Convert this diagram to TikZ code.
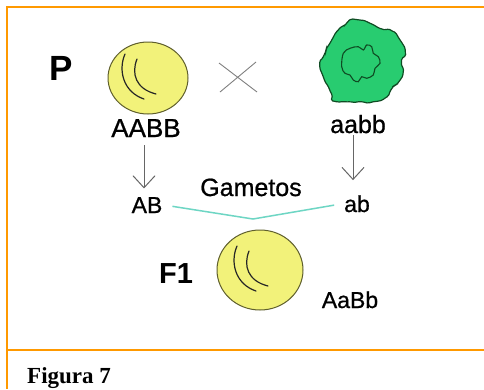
\documentclass[tikz,border=0pt]{standalone}
\usepackage{fontspec}
\setmainfont{Liberation Serif}
\setsansfont{Liberation Sans}
\newfontface\labelface[FakeBold=0.8]{Liberation Sans}
\usepackage{tikz}
\usetikzlibrary{arrows.meta, decorations.pathmorphing}

\definecolor{frameorange}{RGB}{255,153,0}
\definecolor{peayellow}{RGB}{242,242,122}
\definecolor{peaedge}{RGB}{95,95,45}
\definecolor{peagreen}{RGB}{40,204,112}
\definecolor{greenedge}{RGB}{15,75,35}
\definecolor{linkteal}{RGB}{110,214,196}

% round yellow pea: centre, x radius, y radius
\newcommand{\roundpea}[3]{%
  \begin{scope}[shift={#1}]
    \draw[peaedge, fill=peayellow, line width=1pt] (0,0) ellipse [x radius=#2, y radius=#3];
    \draw[pealine] (-23,-24) .. controls (-30,-8) and (-25,14) .. (-4,21);
    \draw[pealine] (-11,-19) .. controls (-17,-4) and (-12,11) .. (8,16);
  \end{scope}}

\begin{document}
\begin{tikzpicture}[x=1pt, y=-1pt, font=\sffamily,
    lbl/.style={inner sep=2pt, anchor=base},
    arr/.style={-{Straight Barb[length=12pt, width=22pt]}, line width=1pt, black!60},
    pealine/.style={line width=1.2pt, black!85, line cap=round}]
    \useasboundingbox (0,0) rectangle (484,389);
    \fill[white] (0,0) rectangle (484,389);

    % frame
    \draw[frameorange, line width=2.5pt] (484,7) -- (7,7) -- (7,389);
    \draw[frameorange, line width=2.5pt] (7,350) -- (484,350);

    % parents
    \roundpea{(148,78)}{40pt}{36pt}
    \pgfmathsetseed{7}
    \draw[greenedge, fill=peagreen, line width=1.2pt,
          decorate, decoration={random steps, segment length=4pt, amplitude=0.8pt}, rounded corners=1.5pt]
        plot[smooth cycle, tension=0.55] coordinates {(346.7,21.7) (358.3,20) (370,23.3) (380,28.3)
        (390,30) (400,40) (405,50) (401.7,60) (403.3,70) (400,80) (393.3,86.7) (386.7,96.7)
        (373.3,101.7) (360,101.7) (336.7,101.7) (333.3,96.7) (328.3,86.7) (323.3,76.7)
        (320,66.7) (323.3,56.7) (326.7,48.3) (331.7,40) (336.7,31.7) (343.3,26.7)};
    \draw[greenedge, line width=1.1pt]
        plot[smooth cycle, tension=0.6] coordinates {(343.3,53.3) (350,48.3) (358.3,46.7) (363.3,50)
        (366.7,45) (371.7,46.7) (373.3,53.3) (378.3,56.7) (380,63.3) (375,68.3) (373.3,75)
        (366.7,78.3) (361.7,76.7) (358.3,81.7) (353.3,80) (350,75) (345,73.3) (341.7,66.7)};

    % cross sign
    \draw[black!50, line width=0.9pt] (219,63) -- (257,92) (220,92) -- (256,62);

    % labels
    \node[lbl, font=\sffamily\bfseries\fontsize{35}{35}\selectfont] (P) at (61,80) {P};
    \node[lbl, font=\labelface\fontsize{26}{26}\selectfont] (AABB) at (146,137) {AABB};
    \node[lbl, font=\labelface\fontsize{25}{25}\selectfont] (aabb) at (358,133) {aabb};
    \node[lbl, font=\labelface\fontsize{23}{23}\selectfont] (AB) at (147,213) {AB};
    \node[lbl, font=\labelface\fontsize{23}{23}\selectfont] (ab) at (357,212) {ab};
    \node[lbl, font=\labelface\fontsize{25}{25}\selectfont] (gam) at (251,196) {Gametos};
    \node[lbl, font=\sffamily\bfseries\fontsize{29}{29}\selectfont] (F1) at (176,283) {F1};
    \node[lbl, font=\labelface\fontsize{23}{23}\selectfont] (AaBb) at (350,308) {AaBb};

    % gametes
    \draw[arr, shorten <=6pt, shorten >=6.5pt] ([xshift=-2pt]AABB.south) -- ([xshift=-3pt]AB.north);
    \draw[arr, shorten >=13pt] ([xshift=-5pt]aabb.south) -- ([xshift=-4pt]ab.north);
    \coordinate (meet) at (253,219);
    \draw[linkteal, line width=1.5pt, shorten <=8pt, shorten >=8pt] (AB.east) -- (meet) -- (ab.west);

    % offspring
    \roundpea{(260,270)}{43pt}{40pt}

    \node[font=\rmfamily\bfseries\fontsize{23}{23}\selectfont, inner sep=0pt, anchor=base west] (fig) at (27,383) {Figura 7};
\end{tikzpicture}
\end{document}
